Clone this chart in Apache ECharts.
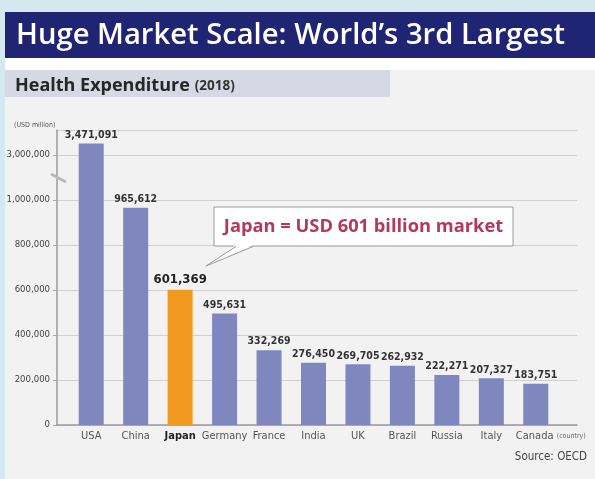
<!DOCTYPE html>
<html><head><meta charset="utf-8">
<script src="https://cdn.jsdelivr.net/npm/echarts@6/dist/echarts.min.js"></script>
<style>html,body{margin:0;padding:0;background:#f2f2f2}#c{width:595px;height:479px}</style>
</head><body><div id="c"></div>
<script>
const categories = ['USA','China','Japan','Germany','France','India','UK','Brazil','Russia','Italy','Canada'];
const expenditure = [3471091,965612,601369,495631,332269,276450,269705,262932,222271,207327,183751];
const tickLabels = ['0','200,000','400,000','600,000','800,000','1,000,000','3,000,000'];
const highlight = 'Japan';

const NARROW = '"Liberation Sans Narrow","DejaVu Sans Condensed",sans-serif';
const fmt = v => Number(v).toLocaleString('en-US');
const chart = echarts.init(document.getElementById('c'), null, {renderer:'canvas'});
chart.setOption({
  animation:false,
  backgroundColor:'#f2f2f2',
  graphic:[
    {type:'rect', shape:{x:0,y:0,width:595,height:12}, style:{fill:'#d3e8ef'}, z:-10},
    {type:'rect', shape:{x:0,y:0,width:5,height:479}, style:{fill:'#d3e8ef'}, z:-10},
    {type:'rect', shape:{x:5,y:12,width:590,height:46}, style:{fill:'#1f2573'}, z:-9},
    {type:'rect', shape:{x:5,y:58,width:590,height:12}, style:{fill:'#ffffff'}, z:-9},
    {type:'rect', shape:{x:5,y:70,width:385,height:27}, style:{fill:'#d6d8e3'}, z:-9},
    {type:'line', shape:{x1:51,y1:174,x2:66,y2:182}, style:{stroke:'#b8b8b8',lineWidth:3}, z:20},
    {type:'rect', shape:{x:214,y:207,width:299,height:39}, style:{fill:'#ffffff',stroke:'#9a9a9a',lineWidth:1}, z:30},
    {type:'polygon', shape:{points:[[236,245],[253,245],[206,266]]}, style:{fill:'#ffffff'}, z:31},
    {type:'polyline', shape:{points:[[236,246.5],[206,266],[253,246.5]]}, style:{stroke:'#9a9a9a',lineWidth:1,fill:null}, z:32},
    {type:'text', x:363.5, y:227, style:{text:'Japan = USD 601 billion market', fill:'#b5385a',
      font:'bold 18.3px "Open Sans",sans-serif', align:'center', verticalAlign:'middle'}, z:33}
  ],
  title:[
    {text:"Huge Market Scale: World’s 3rd Largest", left:11, top:16,
     textStyle:{color:'#ffffff',fontSize:29.2,fontWeight:600,fontFamily:'"Open Sans",sans-serif'}},
    {text:'{a|Health Expenditure} {b|(2018)}', left:10, top:72,
     textStyle:{rich:{a:{fontSize:18,fontWeight:'bold',color:'#262626',fontFamily:'"Open Sans",sans-serif'},
                      b:{fontSize:13.5,fontWeight:'bold',color:'#333',fontFamily:'"Open Sans",sans-serif'}}}},
    {text:'(USD million)', left:9, top:117, textStyle:{fontSize:7,color:'#555',fontWeight:'normal',fontFamily:NARROW}},
    {text:'Source: OECD', right:3, top:446, textStyle:{fontSize:11.5,color:'#444',fontWeight:'normal',fontFamily:NARROW}}
  ],
  grid:[
    {left:57,right:18,top:130,bottom:54},
    {left:69,right:37,top:130,bottom:54}
  ],
  xAxis:[
    {gridIndex:0,type:'category',data:[''],axisLine:{lineStyle:{color:'#9a9a9a',width:1.5}},axisTick:{show:false},axisLabel:{show:false},splitLine:{show:false}},
    {gridIndex:1,type:'category',data:categories,axisLine:{show:false},axisTick:{show:false},
     axisLabel:{margin:6,interval:0,fontFamily:NARROW,fontSize:11,color:'#555',
       formatter:v=> v===highlight ? '{j|'+v+'}' : (v==='Canada' ? '{p|}{n|Canada} {s|(country)}' : '{n|'+v+'}'),
       rich:{j:{fontWeight:'bold',color:'#222',fontSize:11,fontFamily:NARROW},
             n:{color:'#555',fontSize:11,fontFamily:NARROW},
             p:{width:30},
             s:{color:'#666',fontSize:7,fontFamily:NARROW}}}}
  ],
  yAxis:[
    {gridIndex:0,type:'value',min:0,max:1311000,interval:200000,
      axisLine:{show:true,lineStyle:{color:'#9a9a9a',width:1.5}},
      axisTick:{show:true,length:4,lineStyle:{color:'#aaa'}},
      splitLine:{show:true,lineStyle:{color:'#d0d0d0',width:1}},
      axisLabel:{fontFamily:NARROW,fontSize:9.5,color:'#444',margin:7,showMaxLabel:false,
        formatter:(v,i)=> tickLabels[i] !== undefined ? tickLabels[i] : ''}},
    {gridIndex:1,type:'value',min:0,max:3531000,show:false,splitLine:{show:false},
      breaks:[{start:1050000,end:2950000,gap:100000},{start:3020000,end:3440000,gap:0}],
      breakArea:{show:false}}
  ],
  series:[{
    type:'bar', xAxisIndex:1, yAxisIndex:1, barWidth:25,
    data: expenditure.map((v,i)=>({value:v,
      itemStyle:{color: categories[i]===highlight ? '#f29a1f' : '#8087bf'},
      label: categories[i]===highlight ? {fontSize:13,color:'#222',distance:4} : {}})),
    label:{show:true,position:'top',distance:3,fontFamily:NARROW,fontSize:10.5,fontWeight:'bold',color:'#333',
      formatter:p=>fmt(p.value)}
  }]
});
</script></body></html>
